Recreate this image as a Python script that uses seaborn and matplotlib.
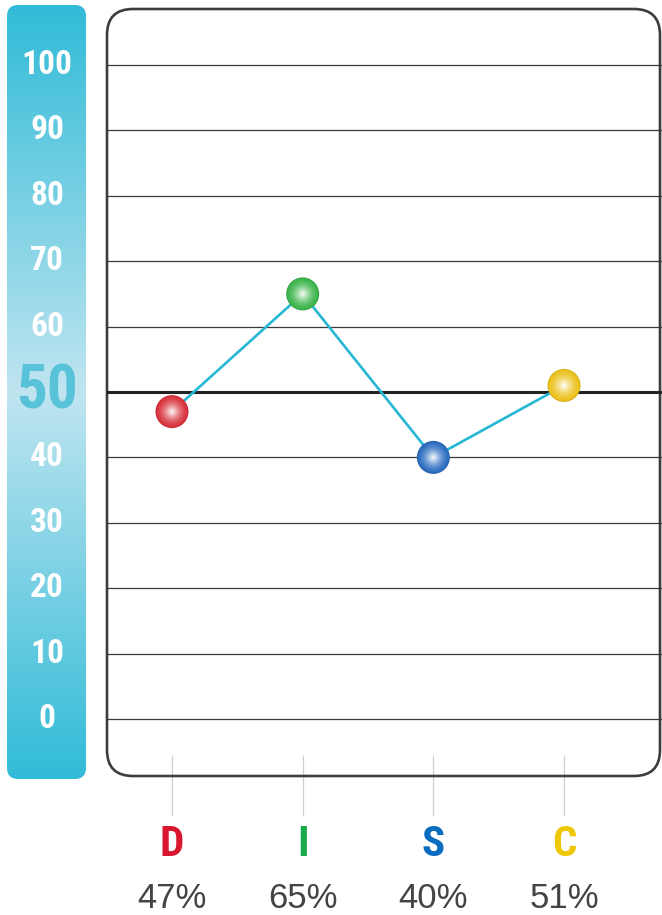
import numpy as np
import pandas as pd
import seaborn as sns
import matplotlib.pyplot as plt
from matplotlib.patches import FancyBboxPatch
from matplotlib.colors import to_rgb
from matplotlib.transforms import blended_transform_factory

# données du profil DISC
traits = ["D", "I", "S", "C"]
scores = [47, 65, 40, 51]
trait_colors = ["#d7182f", "#1aa94a", "#0a6dbf", "#efc700"]
ball_colors = ["#d8323c", "#3bb54b", "#2b6cc0", "#ecc21c"]
scale_ticks = [0, 10, 20, 30, 40, 50, 60, 70, 80, 90, 100]
mid_value = 50

df = pd.DataFrame({"trait": traits, "score": scores})

sns.set_theme(style="white")
narrow = ["Roboto Condensed", "DejaVu Sans"]
regular = ["Liberation Sans", "DejaVu Sans"]

W, H = 662, 915
fig = plt.figure(figsize=(W / 100, H / 100), dpi=100)

# calque de fond en pixels
bg = fig.add_axes([0, 0, 1, 1], zorder=0)
bg.set_xlim(0, W)
bg.set_ylim(H, 0)
bg.axis("off")

# graphique principal
ax = fig.add_axes([107 / W, 1 - 776 / H, 555 / W, 767 / H], zorder=1)
ax.set_facecolor("none")
px = 6.54  # pixels par point de score
ylims = (-(776 - 719) / px, 100 + (65 - 9) / px)
xlims = (-(172 - 107) / 130.7, 3 + (662 - 564) / 130.7)

# barre de gauche en dégradé
t = np.abs(np.linspace(-1, 1, 300))[:, None, None]
top = np.array(to_rgb("#31bbd8"))
mid = np.array(to_rgb("#c0e5f0"))
img = top * t + mid * (1 - t)
im = bg.imshow(img, extent=(7, 86, 779, 5), aspect="auto", origin="upper", zorder=1)
clip = FancyBboxPatch((7, 5), 79, 774, boxstyle="round,pad=0,rounding_size=11",
                      transform=bg.transData)
im.set_clip_path(clip)

# cadre arrondi
panel = FancyBboxPatch((107, 9), 553, 767, boxstyle="round,pad=0,rounding_size=26",
                       fc="none", ec="#3d3d3d", lw=1.9, zorder=3)
bg.add_patch(panel)

# lignes horizontales
for v in scale_ticks:
    if v == mid_value:
        ax.axhline(v, color="#222222", lw=2.2, zorder=1)
    else:
        ax.axhline(v, color="#3a3a3a", lw=0.9, zorder=1)

# petits traits sous le cadre
stub_tr = blended_transform_factory(ax.transData, bg.transData)
bg.vlines(np.arange(len(traits)), 755, 816, color="#cfcfcf", lw=0.9,
          transform=stub_tr, zorder=2)

# graduations à gauche
lab_tr = blended_transform_factory(bg.transData, ax.transData)
for v in scale_ticks:
    if v == mid_value:
        ax.text(47, v, str(v), transform=lab_tr, ha="center", va="center",
                fontsize=44, fontweight="bold", color="#57c2d8", family=narrow)
    else:
        ax.text(47, v, str(v), transform=lab_tr, ha="center", va="center",
                fontsize=24, fontweight="bold", color="white", family=narrow)

# ligne reliant les scores
sns.lineplot(data=df, x="trait", y="score", sort=False, color="#25b7d3",
             lw=1.9, ax=ax, zorder=4)

# billes brillantes (couches concentriques)
n_layers = 16
for k in range(n_layers):
    f = k / (n_layers - 1)
    r = 16.5 * (1 - 0.9 * f)
    mix = 0.88 * f ** 1.6
    pal = {}
    for tr, c in zip(traits, ball_colors):
        base = np.array(to_rgb(c))
        if k == 0:
            base = base * 0.9
        pal[tr] = tuple(base * (1 - mix) + mix)
    sns.scatterplot(data=df, x="trait", y="score", hue="trait", palette=pal,
                    s=(2 * r * 0.72) ** 2, edgecolor="none", legend=False,
                    ax=ax, zorder=5 + k)
ax.set_xlim(*xlims)
ax.set_ylim(*ylims)
ax.axis("off")

# lettres et pourcentages
txt_tr = blended_transform_factory(ax.transData, bg.transData)
for i, (tr, sc, c) in enumerate(zip(traits, scores, trait_colors)):
    ax.text(i, 845, tr, transform=txt_tr, ha="center", va="center",
            fontsize=31, fontweight="bold", color=c, family=narrow)
    ax.text(i, 899, f"{sc}%", transform=txt_tr, ha="center", va="center",
            fontsize=25, color="#444444", family=regular)

fig.savefig("out.png", dpi=100)
